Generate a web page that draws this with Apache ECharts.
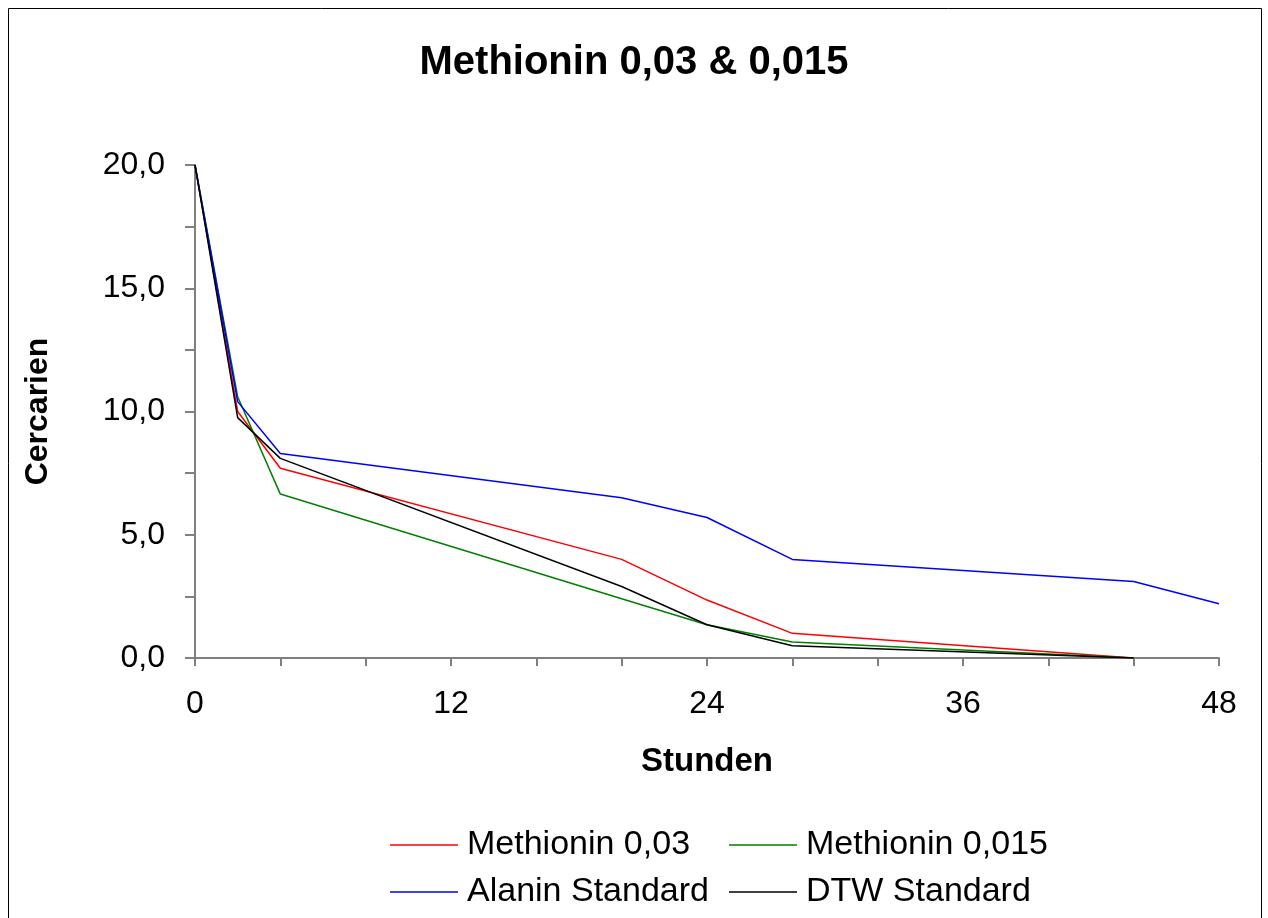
<!DOCTYPE html>
<html>
<head>
<meta charset="utf-8">
<script src="https://cdn.jsdelivr.net/npm/echarts@6/dist/echarts.min.js"></script>
<style>
html,body{margin:0;padding:0;background:#fff;}
#chart{width:1268px;height:918px;}
</style>
</head>
<body>
<div id="chart"></div>
<script>
var hours = [0, 2, 4, 20, 24, 28, 44, 48];
var methionin003 = [20.0, 10.0, 7.7, 4.0, 2.35, 1.0, 0.0, null];
var methionin0015 = [20.0, 10.6, 6.65, 2.4, 1.35, 0.65, 0.0, null];
var alaninStandard = [20.0, 10.4, 8.3, 6.5, 5.7, 4.0, 3.1, 2.2];
var dtwStandard = [20.0, 9.75, 8.1, 2.9, 1.35, 0.5, 0.0, null];
var seriesNames = ['Methionin 0,03', 'Methionin 0,015', 'Alanin Standard', 'DTW Standard'];

function pairs(vals) {
  var out = [];
  for (var i = 0; i < hours.length; i++) {
    if (vals[i] !== null) out.push([hours[i], vals[i]]);
  }
  return out;
}

var FONT = '"Liberation Sans", Arial, sans-serif';
var chart = echarts.init(document.getElementById('chart'), null, {renderer: 'canvas'});

function mkSeries(name, vals, color) {
  return {
    name: name, type: 'line', data: pairs(vals), symbol: 'none', showSymbol: false,
    lineStyle: {color: color, width: 1.5}, itemStyle: {color: color}, animation: false
  };
}

var legendCommon = {
  orient: 'vertical', icon: 'rect', itemWidth: 68, itemHeight: 1.5, itemGap: 13,
  padding: 0,
  textStyle: {fontFamily: FONT, fontSize: 34, color: '#000', padding: [0, 0, 0, 4]},
  top: 828, selectedMode: false
};

chart.setOption({
  backgroundColor: '#fff',
  animation: false,
  title: {
    text: 'Methionin 0,03 & 0,015', left: 'center', top: 38,
    textStyle: {fontFamily: FONT, fontSize: 40, fontWeight: 'bold', color: '#000'}
  },
  graphic: [{
    type: 'rect', shape: {x: 8.5, y: 8.5, width: 1253, height: 930},
    style: {fill: 'none', stroke: '#000', lineWidth: 1}, silent: true
  }],
  legend: [
    Object.assign({}, legendCommon, {left: 390, data: [seriesNames[0], seriesNames[2]]}),
    Object.assign({}, legendCommon, {left: 729, data: [seriesNames[1], seriesNames[3]]})
  ],
  grid: {left: 195, right: 49, top: 165, bottom: 260, containLabel: false},
  xAxis: {
    type: 'value', min: 0, max: 48, interval: 4,
    name: 'Stunden', nameLocation: 'middle', nameGap: 87,
    nameTextStyle: {fontFamily: FONT, fontSize: 33, fontWeight: 'bold', color: '#000'},
    axisLine: {show: true, lineStyle: {color: '#808080', width: 2}},
    axisTick: {show: true, length: 8, lineStyle: {color: '#808080', width: 2}},
    axisLabel: {
      margin: 30, fontFamily: FONT, fontSize: 32, color: '#000',
      formatter: function (v) { return v % 12 === 0 ? String(v) : ''; }
    },
    splitLine: {show: false}
  },
  yAxis: {
    type: 'value', min: 0, max: 20, interval: 2.5,
    name: 'Cercarien', nameLocation: 'middle', nameGap: 141, nameRotate: 90,
    nameTextStyle: {fontFamily: FONT, fontSize: 32, fontWeight: 'bold', color: '#000'},
    axisLine: {show: true, lineStyle: {color: '#808080', width: 2}},
    axisTick: {show: true, length: 10, lineStyle: {color: '#808080', width: 2}},
    axisLabel: {
      margin: 30, fontFamily: FONT, fontSize: 32, color: '#000',
      formatter: function (v) { return v % 5 === 0 ? v.toFixed(1).replace('.', ',') : ''; }
    },
    splitLine: {show: false}
  },
  series: [
    mkSeries(seriesNames[0], methionin003, '#ff0000'),
    mkSeries(seriesNames[1], methionin0015, '#008000'),
    mkSeries(seriesNames[2], alaninStandard, '#0000ff'),
    mkSeries(seriesNames[3], dtwStandard, '#000000')
  ]
});
</script>
</body>
</html>
